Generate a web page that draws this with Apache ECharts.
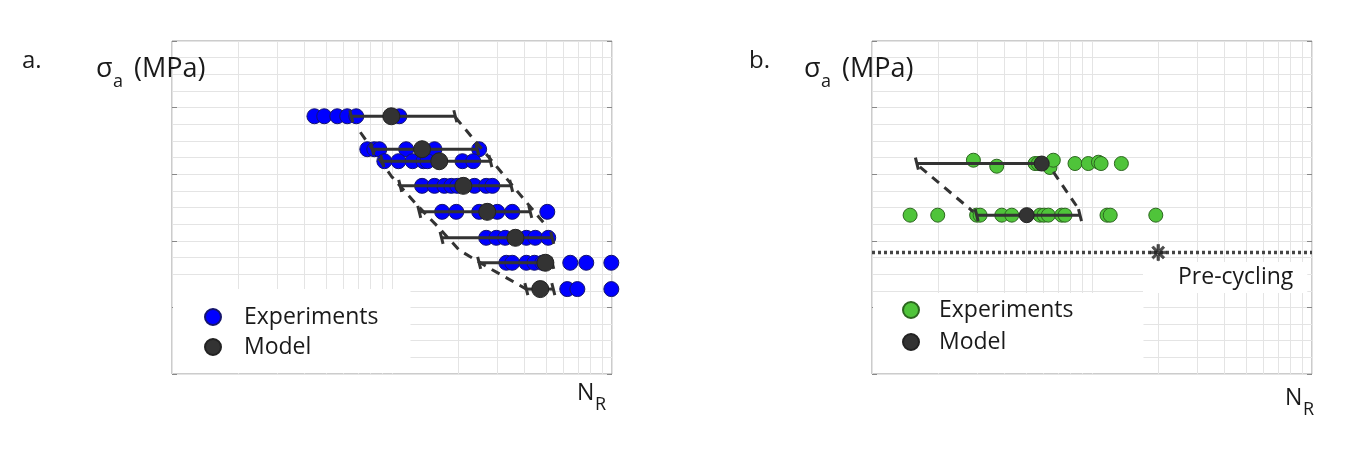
<!DOCTYPE html>
<html><head><meta charset="utf-8">
<script src="https://cdn.jsdelivr.net/npm/echarts@6/dist/echarts.min.js"></script>
<style>html,body{margin:0;padding:0;background:#fff}#c{width:1371px;height:449px}</style>
</head><body><div id="c"></div><script>
// ---------- Panel a ----------
const stressA = [3.87, 3.375, 3.195, 2.825, 2.435, 2.045, 1.67, 1.275];
const expNA = [
  [4.44e4, 4.92e4, 5.64e4, 6.26e4, 6.88e4, 1.08e5],
  [7.72e4, 8.31e4, 8.76e4, 1.16e5, 1.56e5, 2.49e5],
  [9.23e4, 1.07e5, 1.24e5, 1.39e5, 1.45e5, 2.09e5, 2.34e5],
  [1.37e5, 1.56e5, 1.73e5, 1.86e5, 1.98e5, 2.37e5, 2.68e5, 2.86e5],
  [1.69e5, 1.96e5, 2.49e5, 3.01e5, 3.52e5, 5.08e5],
  [2.68e5, 2.98e5, 3.27e5, 4.08e5, 4.48e5, 5.13e5],
  [3.31e5, 3.52e5, 4.08e5, 4.44e5, 4.82e5, 6.46e5, 7.64e5, 9.93e5],
  [6.26e5, 6.96e5, 9.93e5]
];
const modelNA = [9.93e4, 1.37e5, 1.64e5, 2.11e5, 2.71e5, 3.64e5, 4.98e5, 4.72e5];
const barLowA = [6.53e4, 8.14e4, 9.03e4, 1.09e5, 1.33e5, 1.68e5, 2.49e5, 4.08e5];
const barHighA = [1.94e5, 2.44e5, 2.80e5, 3.48e5, 4.25e5, 5.35e5, 5.35e5, 5.41e5];
const leftBoundNA = [7.18e4, 9.93e4, 1.30e5, 1.64e5, 2.02e5, 2.77e5, 4.08e5];
const leftBoundSA = [3.63, 2.97, 2.535, 2.19, 1.86, 1.59, 1.275];
const rightBoundNA = [1.94e5, 5.08e5];
const rightBoundSA = [3.855, 2.205];

// ---------- Panel b ----------
const expNB = [
  [2.89e4, 3.69e4, 5.51e4, 5.70e4, 6.44e4, 6.67e4, 8.37e4, 9.62e4, 1.07e5, 1.10e5, 1.36e5],
  [1.49e4, 1.99e4, 2.99e4, 3.10e4, 3.89e4, 4.32e4, 5.80e4, 6.05e4, 6.33e4, 7.28e4, 7.54e4, 1.17e5, 1.21e5, 1.95e5]
];
const expSB = [
  [3.21, 3.12, 3.16, 3.16, 3.10, 3.21, 3.16, 3.16, 3.18, 3.16, 3.16],
  [2.385, 2.385, 2.385, 2.385, 2.385, 2.385, 2.385, 2.385, 2.385, 2.385, 2.385, 2.385, 2.385, 2.385]
];
const stressB = [3.16, 2.385];
const modelNB = [5.91e4, 5.05e4];
const barLowB = [1.60e4, 2.99e4];
const barHighB = [6.0e4, 8.82e4];
const leftBoundNB = [1.65e4, 2.89e4];
const leftBoundSB = [3.11, 2.435];
const rightBoundNB = [6.67e4, 8.66e4];
const rightBoundSB = [3.035, 2.485];
const preCyclingS = 1.825;
const preCyclingStarN = [2e5];

// ---------- Axes ----------
const xMin = 1e4, xMax = 1e6;
const yMin = 0, yMax = 5, yStep = 1;
const minorGridN = [2e4,3e4,4e4,5e4,6e4,7e4,8e4,9e4,2e5,3e5,4e5,5e5,6e5,7e5,8e5,9e5];

const GRID = '#e4e4e4';
const FONT = 'Open Sans';

function pairs(ns, ss){ return ns.map((n,i)=>[n, ss[i]]); }
function rows(nRows, sRows){ return nRows.flatMap((r,i)=>r.map((n,j)=>[n, Array.isArray(sRows[i]) ? sRows[i][j] : sRows[i]])); }

function renderBar(params, api){
  const s = api.value(0), lo = api.value(1), hi = api.value(2);
  const a = api.coord([lo, s]), b = api.coord([hi, s]);
  const st = {stroke:'#333', lineWidth:3};
  return {type:'group', children:[
    {type:'line', shape:{x1:a[0],y1:a[1],x2:b[0],y2:b[1]}, style:st},
    {type:'line', shape:{x1:a[0]-1.5,y1:a[1]-6,x2:a[0]+1.5,y2:a[1]+6}, style:st},
    {type:'line', shape:{x1:b[0]-1.5,y1:b[1]-6,x2:b[0]+1.5,y2:b[1]+6}, style:st}
  ]};
}

function xAx(gi){
  return {type:'log', logBase:10, gridIndex:gi, min:xMin, max:xMax,
    axisLabel:{show:false}, axisLine:{show:false}, axisTick:{show:false},
    splitLine:{show:true, lineStyle:{color:GRID, width:1}}};
}
function yAx(gi, pos){
  return {type:'value', gridIndex:gi, min:yMin, max:yMax, interval:yStep, position:pos,
    axisLabel:{show:false}, axisLine:{show:false},
    axisTick:{show:true, inside:true, length:5, lineStyle:{color:'#888'}},
    splitLine:{show: pos==='left', lineStyle:{color:GRID}},
    minorTick:{show:false, splitNumber:4},
    minorSplitLine:{show: pos==='left', lineStyle:{color:GRID}}};
}

function gridHost(ax){
  return {type:'line', xAxisIndex:ax, yAxisIndex:ax*2, data:[], z:0, silent:true,
    markLine:{silent:true, symbol:'none', animation:false, label:{show:false}, z:0,
      lineStyle:{color:GRID, type:'solid', width:1},
      data: minorGridN.map(v=>({xAxis:v}))}};
}
function dashed(ax, data){
  return {type:'line', xAxisIndex:ax, yAxisIndex:ax*2, data, symbol:'none', z:4, silent:true,
    lineStyle:{color:'#333', width:3, type:[9,7]}};
}

const chart = echarts.init(document.getElementById('c'));
chart.setOption({
  animation:false,
  backgroundColor:'#fff',
  grid:[
    {left:172, top:41, width:440, height:333, show:true, borderColor:'#999', borderWidth:1, backgroundColor:'transparent'},
    {left:872, top:41, width:440, height:333, show:true, borderColor:'#999', borderWidth:1, backgroundColor:'transparent'}
  ],
  xAxis:[xAx(0), xAx(1)],
  yAxis:[yAx(0,'left'), yAx(0,'right'), yAx(1,'left'), yAx(1,'right')],
  legend:[
    {orient:'vertical', left:173, top:289, z:20, padding:[16,32,14,31], itemGap:6, itemWidth:16, itemHeight:16,
      backgroundColor:'#fff', icon:'circle', selectedMode:false,
      data:['Experiments (a)','Model (a)'], formatter:n=>n.replace(' (a)',''),
      textStyle:{fontFamily:FONT, fontSize:23, lineHeight:24, color:'#1a1a1a', padding:[0,0,0,18]}},
    {orient:'vertical', left:873, top:293, z:20, padding:[5,70,19,29], itemGap:8, itemWidth:16, itemHeight:16,
      backgroundColor:'#fff', icon:'circle', selectedMode:false,
      data:['Experiments (b)','Model (b)'], formatter:n=>n.replace(' (b)',''),
      textStyle:{fontFamily:FONT, fontSize:23, lineHeight:24, color:'#1a1a1a', padding:[0,0,0,15]}}
  ],
  graphic:[
    {type:'text', x:22, y:61, z:100, style:{text:'a.', font:'24px "Open Sans"', fill:'#1a1a1a', verticalAlign:'middle'}},
    {type:'text', x:96, y:69, z:100, style:{text:'σ', font:'27px "Open Sans"', fill:'#1a1a1a', verticalAlign:'middle'}},
    {type:'text', x:113, y:82, z:100, style:{text:'a', font:'18px "Open Sans"', fill:'#1a1a1a', verticalAlign:'middle'}},
    {type:'text', x:134, y:69, z:100, style:{text:'(MPa)', font:'27px "Open Sans"', fill:'#1a1a1a', verticalAlign:'middle'}},
    {type:'text', x:577, y:393, z:100, style:{text:'N', font:'23px "Open Sans"', fill:'#1a1a1a', verticalAlign:'middle'}},
    {type:'text', x:595, y:405, z:100, style:{text:'R', font:'18px "Open Sans"', fill:'#1a1a1a', verticalAlign:'middle'}},

    {type:'text', x:749, y:61, z:100, style:{text:'b.', font:'24px "Open Sans"', fill:'#1a1a1a', verticalAlign:'middle'}},
    {type:'text', x:804, y:69, z:100, style:{text:'σ', font:'27px "Open Sans"', fill:'#1a1a1a', verticalAlign:'middle'}},
    {type:'text', x:821, y:82, z:100, style:{text:'a', font:'18px "Open Sans"', fill:'#1a1a1a', verticalAlign:'middle'}},
    {type:'text', x:842, y:69, z:100, style:{text:'(MPa)', font:'27px "Open Sans"', fill:'#1a1a1a', verticalAlign:'middle'}},
    {type:'text', x:1285, y:398, z:100, style:{text:'N', font:'23px "Open Sans"', fill:'#1a1a1a', verticalAlign:'middle'}},
    {type:'text', x:1303, y:410, z:100, style:{text:'R', font:'18px "Open Sans"', fill:'#1a1a1a', verticalAlign:'middle'}},

    {type:'text', x:1143, y:262, z:100, style:{text:'Pre-cycling', font:'23px "Open Sans"', fill:'#1a1a1a',
      backgroundColor:'#fff', padding:[2,14,3,35], lineHeight:26, verticalAlign:'top'}}
  ],
  series:[
    gridHost(0), gridHost(1),
    // panel a
    {name:'Experiments (a)', type:'scatter', xAxisIndex:0, yAxisIndex:0, z:3, symbolSize:15,
      itemStyle:{color:'#0000ff', borderColor:'#14146e', borderWidth:1, opacity:1},
      data: rows(expNA, stressA)},
    dashed(0, pairs(leftBoundNA, leftBoundSA)),
    dashed(0, pairs(rightBoundNA, rightBoundSA)),
    {type:'custom', xAxisIndex:0, yAxisIndex:0, z:5, silent:true, renderItem:renderBar,
      encode:{x:[1,2], y:0}, data: stressA.map((s,i)=>[s, barLowA[i], barHighA[i]])},
    {name:'Model (a)', type:'scatter', xAxisIndex:0, yAxisIndex:0, z:6, symbolSize:17,
      itemStyle:{color:'#333333', borderColor:'#222', borderWidth:1, opacity:1},
      data: pairs(modelNA, stressA)},
    // panel b
    {type:'line', xAxisIndex:1, yAxisIndex:2, z:4, symbol:'none', silent:true,
      lineStyle:{color:'#444', width:3.5, type:[3,3]},
      data:[[xMin, preCyclingS],[xMax, preCyclingS]]},
    {type:'scatter', xAxisIndex:1, yAxisIndex:2, z:7, silent:true, symbolSize:16,
      symbol:'path://M-1.6,-10 L1.6,-10 L1.6,10 L-1.6,10 Z M-10,-1.6 L10,-1.6 L10,1.6 L-10,1.6 Z M-8.2,-5.9 L-5.9,-8.2 L8.2,5.9 L5.9,8.2 Z M8.2,-5.9 L5.9,-8.2 L-8.2,5.9 L-5.9,8.2 Z',
      itemStyle:{color:'#222', borderColor:'#222', borderWidth:0.6}, data: preCyclingStarN.map(n=>[n, preCyclingS])},
    {name:'Experiments (b)', type:'scatter', xAxisIndex:1, yAxisIndex:2, z:3, symbolSize:14,
      itemStyle:{color:'#4fc43a', borderColor:'#2c661f', borderWidth:1, opacity:1},
      data: rows(expNB, expSB)},
    dashed(1, pairs(leftBoundNB, leftBoundSB)),
    dashed(1, pairs(rightBoundNB, rightBoundSB)),
    {type:'custom', xAxisIndex:1, yAxisIndex:2, z:5, silent:true, renderItem:renderBar,
      encode:{x:[1,2], y:0}, data: stressB.map((s,i)=>[s, barLowB[i], barHighB[i]])},
    {name:'Model (b)', type:'scatter', xAxisIndex:1, yAxisIndex:2, z:6, symbolSize:15,
      itemStyle:{color:'#333333', borderColor:'#222', borderWidth:1, opacity:1},
      data: pairs(modelNB, stressB)}
  ]
});
</script></body></html>
